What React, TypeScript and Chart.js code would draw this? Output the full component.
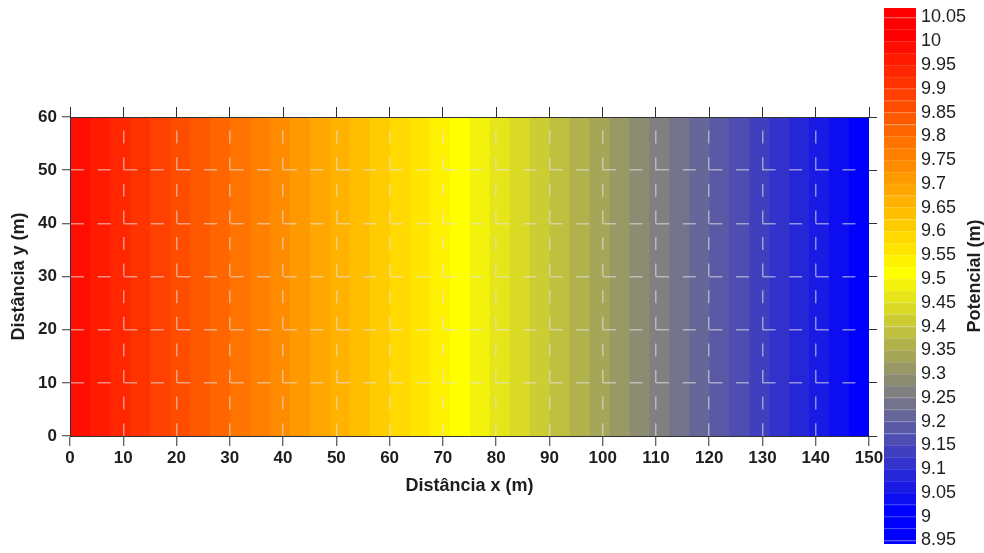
import React, { useEffect, useRef } from 'react';
import { Chart, registerables } from 'chart.js';

Chart.register(...registerables);

// ---- data ----
// x positions (m) where the potential contours cross the domain (contours are vertical)
const contourX = [
  0, 3.75, 7.5, 11.25, 15, 18.75, 22.5, 26.25, 30, 33.75, 37.5, 41.25, 45, 48.75, 52.5, 56.25,
  60, 63.75, 67.5, 71.25, 75, 78.75, 82.5, 86.25, 90, 93.75, 97.5, 101.25, 105, 108.75, 112.5,
  116.25, 120, 123.75, 127.5, 131.25, 135, 138.75, 142.5, 146.25, 150,
];
// potential (m) on each of those contours
const contourLevel = [
  10.0, 9.975, 9.95, 9.925, 9.9, 9.875, 9.85, 9.825, 9.8, 9.775, 9.75, 9.725, 9.7, 9.675, 9.65,
  9.625, 9.6, 9.575, 9.55, 9.525, 9.5, 9.475, 9.45, 9.425, 9.4, 9.375, 9.35, 9.325, 9.3, 9.275,
  9.25, 9.225, 9.2, 9.175, 9.15, 9.125, 9.1, 9.075, 9.05, 9.025, 9.0,
];
// domain extent (m)
const domainTop = 60;
const domainBottom = 0;
const domainRight = 150;

// colour bar band edges (m)
const colorbarLevels = [
  8.925, 8.95, 8.975, 9.0, 9.025, 9.05, 9.075, 9.1, 9.125, 9.15, 9.175, 9.2, 9.225, 9.25, 9.275,
  9.3, 9.325, 9.35, 9.375, 9.4, 9.425, 9.45, 9.475, 9.5, 9.525, 9.55, 9.575, 9.6, 9.625, 9.65,
  9.675, 9.7, 9.725, 9.75, 9.775, 9.8, 9.825, 9.85, 9.875, 9.9, 9.925, 9.95, 9.975, 10.0, 10.025,
  10.05, 10.075,
];
const colorbarTicks = [
  8.95, 9.0, 9.05, 9.1, 9.15, 9.2, 9.25, 9.3, 9.35, 9.4, 9.45, 9.5, 9.55, 9.6, 9.65, 9.7, 9.75,
  9.8, 9.85, 9.9, 9.95, 10.0, 10.05,
];
const colorbarTickLabels = [
  '8.95', '9', '9.05', '9.1', '9.15', '9.2', '9.25', '9.3', '9.35', '9.4', '9.45', '9.5', '9.55',
  '9.6', '9.65', '9.7', '9.75', '9.8', '9.85', '9.9', '9.95', '10', '10.05',
];

// ---- styles ----
const FONT = '"Liberation Sans", Arial, sans-serif';
const textColor = '#1e1e1e';
const axisColor = '#333333';
const gridColor = 'rgba(225,225,225,0.58)';

function rgbFor(level: number): [number, number, number] {
  let t = (level - 9) / 1;
  t = Math.max(0, Math.min(1, t));
  if (t >= 0.5) {
    const u = (t - 0.5) * 2;
    return [255, Math.round(255 * (1 - u)), 0];
  }
  const s = t * 2;
  return [Math.round(255 * s), Math.round(255 * s), Math.round(255 * (1 - s))];
}
const colorFor = (level: number) => {
  const [r, g, b] = rgbFor(level);
  return `rgb(${r},${g},${b})`;
};
const lightColorFor = (level: number) => {
  const [r, g, b] = rgbFor(level);
  const m = (c: number) => Math.round(c * 0.85 + 255 * 0.15);
  return `rgb(${m(r)},${m(g)},${m(b)})`;
};

const cbTitlePlugin = {
  id: 'cbTitle',
  afterDraw(chart: any) {
    const ctx = chart.ctx;
    const area = chart.chartArea;
    ctx.save();
    ctx.font = `bold 18px ${FONT}`;
    ctx.fillStyle = textColor;
    ctx.textAlign = 'center';
    ctx.textBaseline = 'middle';
    ctx.translate(chart.width - 9, (area.top + area.bottom) / 2);
    ctx.rotate(-Math.PI / 2);
    ctx.fillText('Potencial (m)', 0, 0);
    ctx.restore();
  },
};

export default function App() {
  const mainRef = useRef<HTMLCanvasElement>(null);
  const cbRef = useRef<HTMLCanvasElement>(null);

  useEffect(() => {
    const tickFont = { family: FONT, size: 17, weight: 'bold' as const };
    const titleFont = { family: FONT, size: 18, weight: 'bold' as const };
    const hideEdge = (lo: number, hi: number) => (ctx: any) =>
      ctx.tick && (ctx.tick.value === lo || ctx.tick.value === hi) ? 'rgba(0,0,0,0)' : gridColor;

    // each band is filled from its left contour to the right edge of the domain;
    // bands further right are painted over the previous ones
    const bandDatasets = contourLevel.slice(0, -1).map((_, i) => ({
      data: [
        { x: contourX[i], y: domainTop },
        { x: domainRight, y: domainTop },
      ],
      fill: 'origin',
      backgroundColor: colorFor(contourLevel[i + 1]),
      borderWidth: 0,
      pointRadius: 0,
      tension: 0,
      order: -i,
    }));

    const main = new Chart(mainRef.current!, {
      type: 'line',
      data: { datasets: bandDatasets as any },
      options: {
        responsive: false,
        animation: false,
        layout: { padding: { left: 0, right: 107, top: 107, bottom: 56 } },
        plugins: { legend: { display: false }, tooltip: { enabled: false } },
        scales: {
          x: {
            type: 'linear',
            position: 'bottom',
            min: 0,
            max: domainRight,
            ticks: { stepSize: 10, font: tickFont, color: textColor, padding: 2, maxRotation: 0, autoSkip: false },
            grid: {
              z: 1,
              color: hideEdge(0, 150),
              lineWidth: 1.5,
              tickColor: axisColor,
              tickLength: 10,
              tickWidth: 1,
              tickBorderDash: [],
            },
            border: { display: true, color: axisColor, width: 1, z: 2, dash: [13, 13.6], dashOffset: 13 },
            title: { display: true, text: 'Distância x (m)', font: titleFont, color: textColor, padding: 0 },
            afterFit: (s: any) => {
              s.height = 61;
              s.paddingLeft = 0;
              s.paddingRight = 0;
            },
          },
          x2: {
            type: 'linear',
            position: 'top',
            min: 0,
            max: domainRight,
            ticks: { stepSize: 10, display: false },
            grid: { z: 1, drawOnChartArea: false, tickColor: axisColor, tickLength: 10, tickWidth: 1 },
            border: { display: true, color: axisColor, width: 1, z: 2 },
            afterFit: (s: any) => {
              s.height = 10;
              s.paddingLeft = 0;
              s.paddingRight = 0;
            },
          },
          y: {
            type: 'linear',
            position: 'left',
            min: domainBottom,
            max: domainTop,
            ticks: { stepSize: 10, font: tickFont, color: textColor, padding: 5 },
            grid: {
              z: 1,
              color: hideEdge(0, 60),
              lineWidth: 1.5,
              tickColor: axisColor,
              tickLength: 8,
              tickWidth: 1,
              tickBorderDash: [],
            },
            border: { display: true, color: axisColor, width: 1, z: 2, dash: [13, 13.6], dashOffset: 0 },
            title: { display: true, text: 'Distância y (m)', font: titleFont, color: textColor, padding: { top: 8, bottom: 0 } },
            afterFit: (s: any) => {
              s.width = 70;
              s.paddingTop = 0;
              s.paddingBottom = 0;
            },
          },
          y2: {
            type: 'linear',
            position: 'right',
            min: domainBottom,
            max: domainTop,
            ticks: { stepSize: 10, display: false },
            grid: { z: 1, drawOnChartArea: false, tickColor: axisColor, tickLength: 8, tickWidth: 1 },
            border: { display: false },
            afterFit: (s: any) => {
              s.width = 8;
              s.paddingTop = 0;
              s.paddingBottom = 0;
            },
          },
        },
      } as any,
    });

    const cbDatasets = colorbarLevels.slice(0, -1).map((lo, i) => ({
      data: [[lo, colorbarLevels[i + 1]]],
      backgroundColor: colorFor(lo),
      borderColor: lightColorFor(lo),
      borderWidth: { top: 1, right: 0, bottom: 0, left: 0 },
      borderSkipped: false,
      barPercentage: 1,
      categoryPercentage: 1,
      grouped: false,
      clip: 0,
    }));

    const cb = new Chart(cbRef.current!, {
      type: 'bar',
      data: { labels: ['Potencial'], datasets: cbDatasets as any },
      options: {
        responsive: false,
        animation: false,
        layout: { padding: { left: 4, right: 0, top: 8, bottom: 9 } },
        plugins: { legend: { display: false }, tooltip: { enabled: false } },
        scales: {
          x: { display: false },
          y: {
            type: 'linear',
            position: 'right',
            min: 8.9426,
            max: 10.07,
            grid: { display: false, drawTicks: false },
            border: { display: false },
            ticks: {
              font: { family: FONT, size: 18 },
              color: textColor,
              padding: 5,
              autoSkip: false,
              callback: (_v: any, idx: number) => colorbarTickLabels[idx],
            },
            afterBuildTicks: (s: any) => {
              s.ticks = colorbarTicks.map((v) => ({ value: v }));
            },
            afterFit: (s: any) => {
              s.width = 68;
              s.paddingTop = 0;
              s.paddingBottom = 0;
            },
          },
        },
      } as any,
      plugins: [cbTitlePlugin],
    });

    return () => {
      main.destroy();
      cb.destroy();
    };
  }, []);

  return (
    <div style={{ position: 'absolute', left: 0, top: 0, width: 984, height: 553, background: '#fff' }}>
      <canvas ref={mainRef} width={984} height={553} style={{ position: 'absolute', left: 0, top: 0 }} />
      <canvas ref={cbRef} width={104} height={553} style={{ position: 'absolute', left: 880, top: 0 }} />
    </div>
  );
}
